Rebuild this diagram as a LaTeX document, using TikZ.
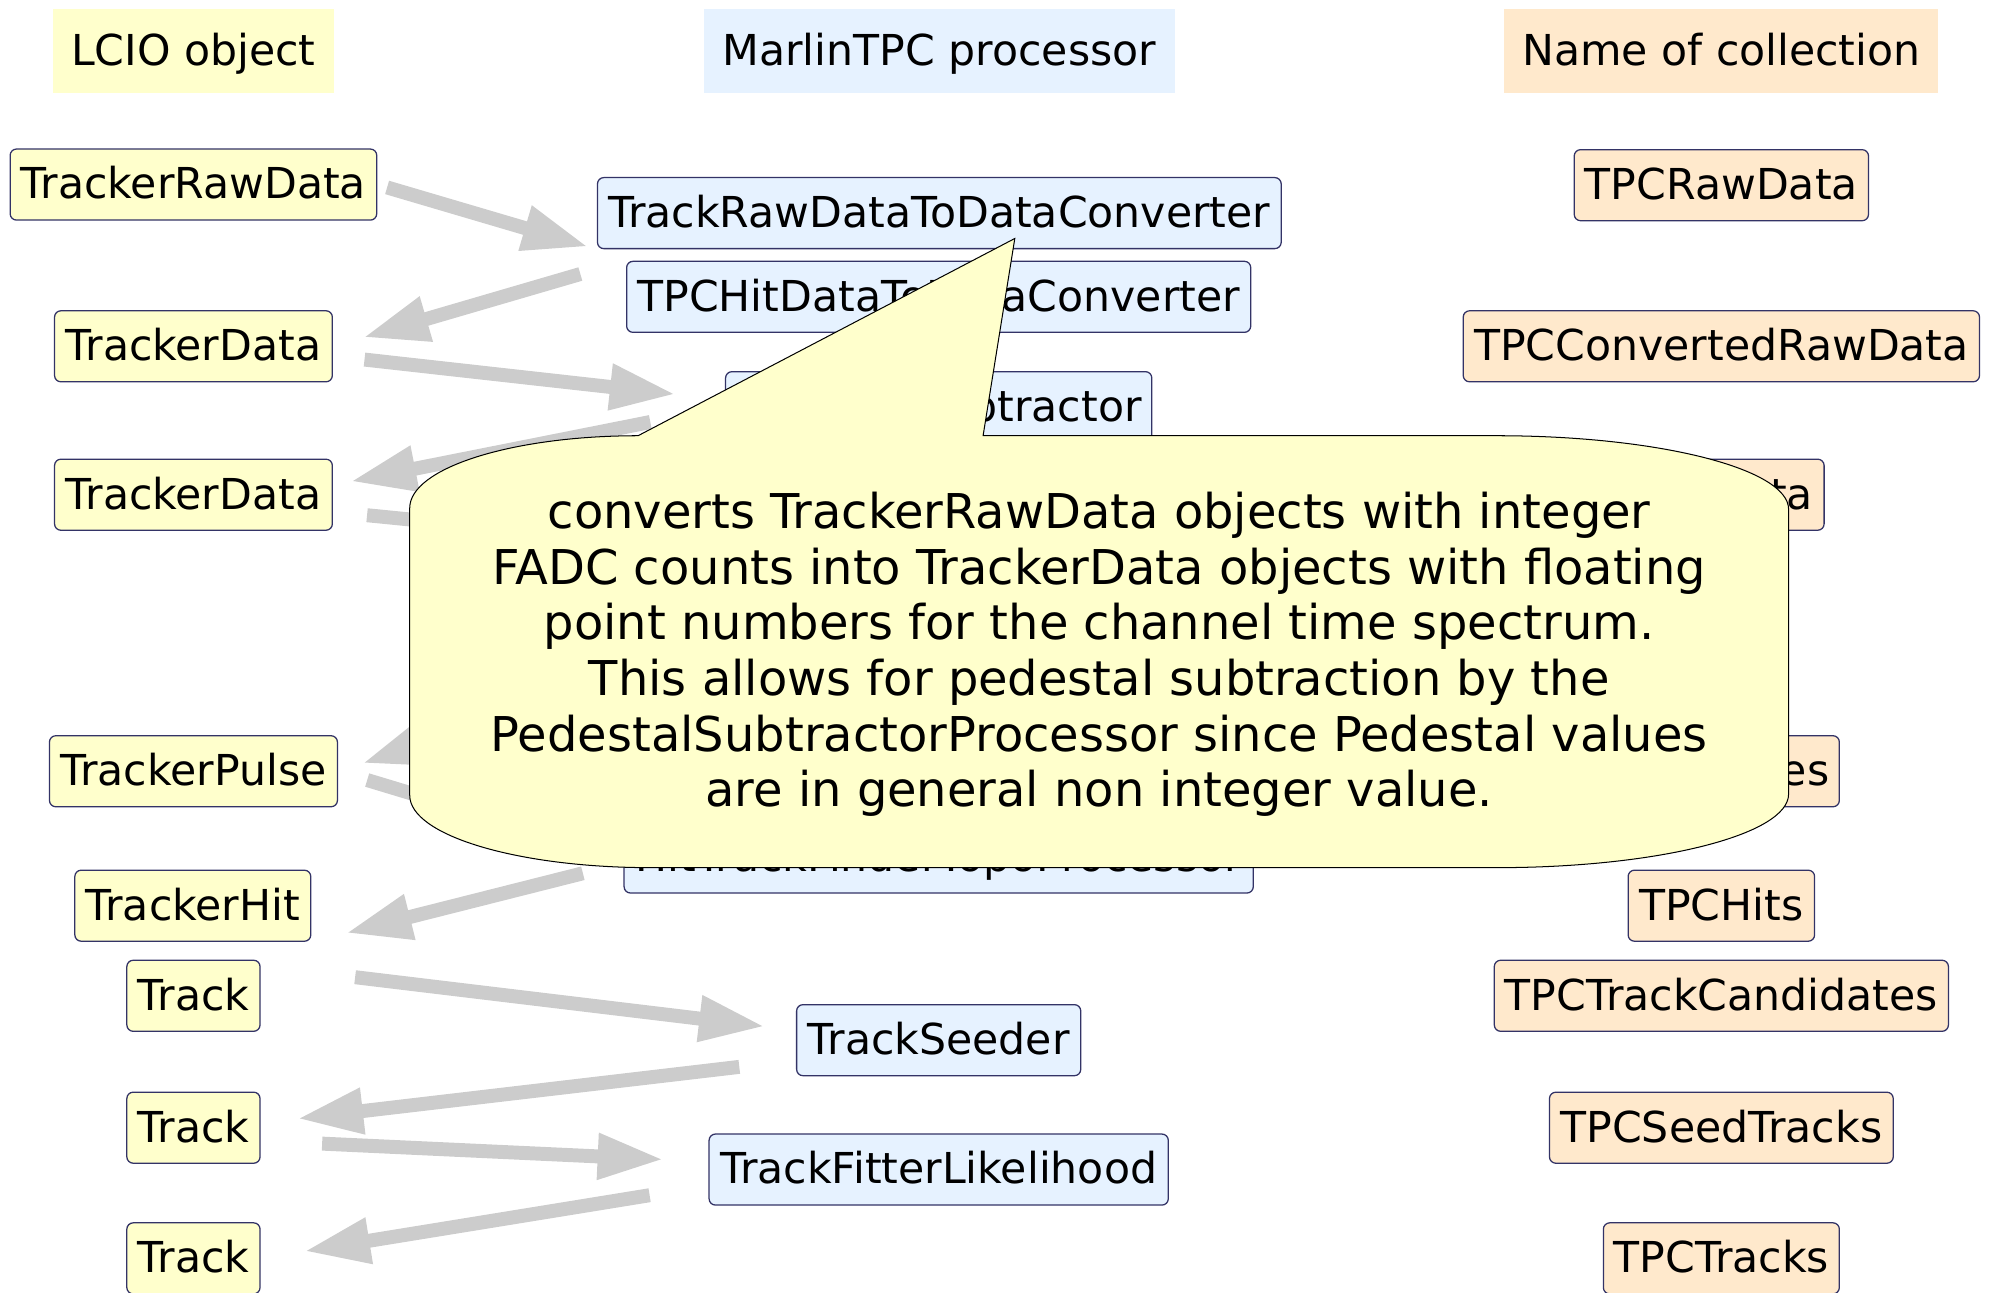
\documentclass[tikz,border=0pt]{standalone}
\usepackage{fontspec}
\setmainfont{DejaVu Sans}
\usetikzlibrary{arrows.meta}

\definecolor{lcioyellow}{RGB}{255,255,204}
\definecolor{marlinblue}{RGB}{230,242,255}
\definecolor{collorange}{RGB}{255,233,204}
\definecolor{boxline}{RGB}{51,51,102}
\definecolor{flowgray}{RGB}{204,204,204}

\tikzset{
    box/.style={draw=boxline, line width=1pt, rounded corners=5pt, minimum height=56pt,
        inner xsep=0pt, text height=27.6pt, text depth=5pt, font=\fontsize{33.6}{40}\selectfont},
    lcio/.style={box, fill=lcioyellow},
    proc/.style={box, fill=marlinblue},
    coll/.style={box, fill=collorange},
    head/.style={minimum height=66pt, inner xsep=0pt, text height=28.5pt, text depth=5pt,
        font=\fontsize{33.6}{40}\selectfont},
    flow/.style={draw=flowgray, line width=11pt, -{Triangle[length=52pt,width=34pt]}},
    callout/.style={draw=black, line width=0.8pt, fill=lcioyellow}
}

\begin{document}
\begin{tikzpicture}[x=1pt,y=-1pt]
    \useasboundingbox (0,0) rectangle (1568,1019);

    \node[head, fill=lcioyellow, minimum width=221pt] (hlcio) at (152.5,40) {LCIO object};
    \node[head, fill=marlinblue, minimum width=371pt] (hmarlin) at (740.5,40) {MarlinTPC processor};
    \node[head, fill=collorange, minimum width=342pt] (hcoll) at (1357,40) {Name of collection};

    \node[lcio, minimum width=289pt] (lraw) at (152.5,145.5) {TrackerRawData};
    \node[lcio, minimum width=219pt] (ldata1) at (152.5,273) {TrackerData};
    \node[lcio, minimum width=219pt] (ldata2) at (152.5,390) {TrackerData};
    \node[lcio, minimum width=227pt] (lpulse) at (152.5,608) {TrackerPulse};
    \node[lcio, minimum width=186pt] (lhit) at (152,714) {TrackerHit};
    \node[lcio, minimum width=105pt] (ltrk1) at (152.5,785) {Track};
    \node[lcio, minimum width=105pt] (ltrk2) at (152.5,889) {Track};
    \node[lcio, minimum width=105pt] (ltrk3) at (152.5,992) {Track};

    \node[proc, minimum width=539pt] (pconv) at (740.5,168) {TrackRawDataToDataConverter};
    \node[proc, minimum width=492pt] (phit) at (740,234) {TPCHitDataToDataConverter};
    \node[proc, minimum width=336pt] (pped) at (740,321) {PedestalSubtractor};
    \node[proc, minimum width=496pt] (ptopo) at (740,676) {HitTrackFinderTopoProcessor};
    \node[proc, minimum width=224pt] (pseed) at (740,820) {TrackSeeder};
    \node[proc, minimum width=362pt] (pfit) at (740,922) {TrackFitterLikelihood};
    \coordinate (pulsein) at (560,433);
    \coordinate (pulseout) at (540,519);

    \node[coll, minimum width=232pt] (craw) at (1357,146) {TPCRawData};
    \node[coll, minimum width=407pt] (cconv) at (1357,273) {TPCConvertedRawData};
    \node[coll, minimum width=162pt] (cdata) at (1357,390) {TPCData};
    \node[coll, minimum width=186pt] (cpulse) at (1357,608) {TPCPulses};
    \node[coll, minimum width=147pt] (chits) at (1357,714) {TPCHits};
    \node[coll, minimum width=358pt] (ccand) at (1357,785) {TPCTrackCandidates};
    \node[coll, minimum width=271pt] (cseed) at (1357,889) {TPCSeedTracks};
    \node[coll, minimum width=186pt] (ctracks) at (1357,992) {TPCTracks};

    \draw[flow, shorten <=8pt, shorten >=7pt] (lraw.east) -- (pconv.south west);
    \draw[flow, shorten <=37.5pt, shorten >=24.7pt] (phit.north west) -- (ldata1.east);
    \draw[flow, shorten <=25pt, shorten >=39pt] (ldata1.-4) -- (pped.178);
    \draw[flow, shorten <=60pt, shorten >=14pt] (pped.west) -- (ldata2.4);
    \draw[flow, shorten <=27pt] (ldata2.-7) -- (pulsein);
    \draw[flow, shorten >=20pt] (pulseout) -- (lpulse.east);
    \draw[flow, shorten <=24pt, shorten >=80pt] (lpulse.east) -- (ptopo.west);
    \draw[flow, shorten <=33pt, shorten >=28pt] (ptopo.181) -- (lhit.south east);
    \draw[flow, shorten <=75pt, shorten >=24.6pt] (ltrk1.24) -- (pseed.176);
    \draw[flow, shorten <=45pt, shorten >=29pt] (pseed.188.5) -- (ltrk2.4);
    \draw[flow, shorten <=48.5pt, shorten >=35.4pt] (ltrk2.-11.3) -- (pfit.178.7);
    \draw[flow, shorten <=47pt, shorten >=34.7pt] (pfit.184.3) -- (ltrk3.east);

    \draw[callout] (323,400.5) .. controls (323,369) and (403.6,343.5) .. (503,343.5)
        -- (800,188) -- (775,343.5) -- (1180,343.5)
        .. controls (1307,343.5) and (1410,369.5) .. (1410,401.5) -- (1410,626)
        .. controls (1410,658) and (1307,684) .. (1180,684) -- (513,684)
        .. controls (408,684) and (323,658.5) .. (323,627) -- cycle;
    \node[font=\fontsize{37.8}{43.8}\selectfont, align=center] (note) at (866.5,516)
        {converts TrackerRawData objects with integer\\
        FADC counts into TrackerData objects with floating\\
        point numbers for the channel time spectrum.\\
        This allows for pedestal subtraction by the\\
        PedestalSubtractorProcessor since Pedestal values\\
        are in general non integer value.};
\end{tikzpicture}
\end{document}
